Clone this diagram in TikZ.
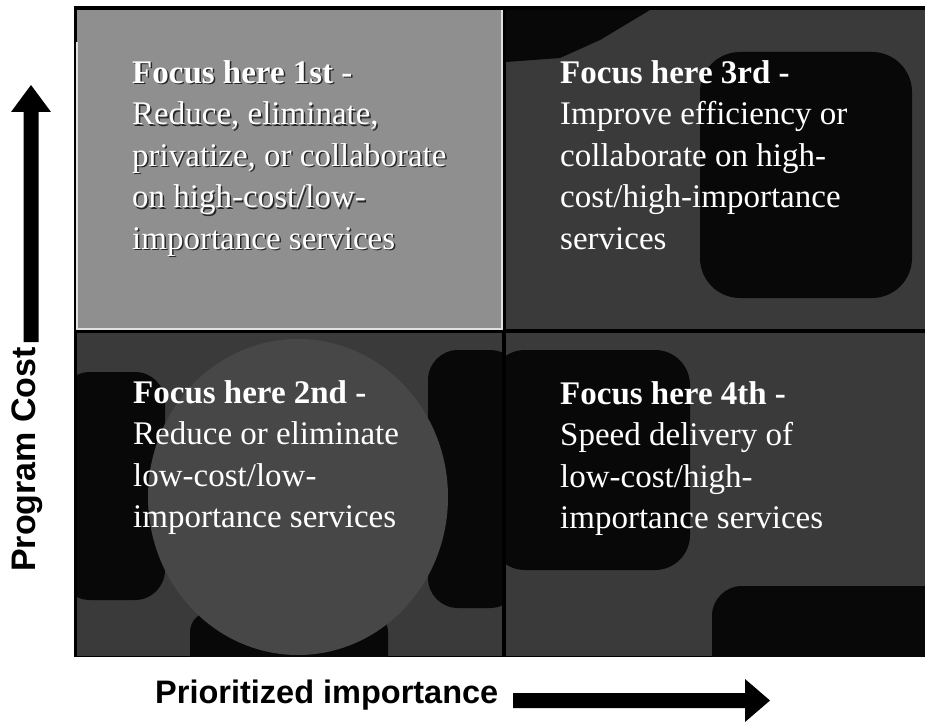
\documentclass[tikz,border=0pt]{standalone}
\usepackage{fontspec}
\setmainfont{Liberation Serif}
\newfontfamily\axisfont{Liberation Sans}
\definecolor{lightquad}{HTML}{8F8F8F}
\definecolor{greyzone}{HTML}{3A3A3A}
\definecolor{midzone}{HTML}{474747}
\definecolor{deepzone}{HTML}{080808}
\begin{document}
\begin{tikzpicture}[x=1pt,y=-1pt,
  quadtext/.style={anchor=north west, inner sep=0pt, align=left, text=white,
    font=\fontsize{33}{41.5}\selectfont},
  shadowtext/.style={quadtext, text=black!85},
  axislabel/.style={inner sep=0pt, text=black,
    font=\axisfont\bfseries\fontsize{32.5}{36}\selectfont},
  axisarrow/.style={fill=black},
]
\useasboundingbox (0,0) rectangle (925,722);
\fill[white] (0,0) rectangle (925,722);

% black frame behind the four quadrants
\fill[black] (74,6) rectangle (925,657);

% top left quadrant: light grey
\fill[lightquad] (77,10) rectangle (502,329);
\draw[white!88!black, line width=1.2pt] (77,42) -- (77,329) -- (502,329) -- (502,10);

% top right quadrant
\begin{scope}
  \clip (506,10) rectangle (925,329);
  \fill[greyzone] (506,10) rectangle (925,329);
  \fill[deepzone] (506,10) -- (650,10) -- (600,40) -- (560,58) -- (506,62) -- cycle;
  \fill[deepzone, rounded corners=40pt] (700,52) rectangle (912,298);
\end{scope}

% bottom left quadrant
\begin{scope}
  \clip (77,333) rectangle (502,656);
  \fill[greyzone] (77,333) rectangle (502,656);
  \fill[deepzone, rounded corners=30pt] (60,372) rectangle (165,600);
  \fill[deepzone, rounded corners=30pt] (428,350) rectangle (520,608);
  \fill[deepzone, rounded corners=20pt] (190,612) rectangle (388,680);
  \fill[midzone] (298,497) ellipse [x radius=150, y radius=158];
\end{scope}

% bottom right quadrant
\begin{scope}
  \clip (506,333) rectangle (925,656);
  \fill[greyzone] (506,333) rectangle (925,656);
  \fill[deepzone, rounded corners=35pt] (490,350) rectangle (690,570);
  \fill[deepzone, rounded corners=30pt] (712,586) rectangle (960,690);
\end{scope}

% quadrant texts
\node[shadowtext] (q1s) at (133.5,61.5) {\textbf{Focus here 1st -}\\Reduce, eliminate,\\privatize, or collaborate\\on high-cost/low-\\importance services};
\node[quadtext] (q1) at (132,60) {\textbf{Focus here 1st -}\\Reduce, eliminate,\\privatize, or collaborate\\on high-cost/low-\\importance services};
\node[quadtext] (q3) at (560,60) {\textbf{Focus here 3rd -}\\Improve efficiency or\\collaborate on high-\\cost/high-importance\\services};
\node[quadtext] (q2) at (133,380) {\textbf{Focus here 2nd -}\\Reduce or eliminate\\low-cost/low-\\importance services};
\node[quadtext] (q4) at (560,381) {\textbf{Focus here 4th -}\\Speed delivery of\\low-cost/high-\\importance services};

% vertical axis: label and arrow
\node[axislabel, anchor=base west, rotate=90, font=\axisfont\bfseries\fontsize{34}{38}\selectfont] (ylabel) at (35,572) {Program Cost};
\coordinate (ys) at (31,342);
\coordinate (yt) at (31,85);
\fill[axisarrow] (ys) ++(-7.5,0) -- ++(0,-230) -- ++(-12.5,0) -- (yt) -- ++(20,27) -- ++(-12.5,0) -- ++(0,230) -- cycle;

% horizontal axis: label and arrow
\node[axislabel, anchor=base west] (xlabel) at (155,703) {Prioritized importance};
\coordinate (xs) at (513,700.5);
\coordinate (xt) at (770,700.5);
\fill[axisarrow] (xs) ++(0,-7.5) -- ++(232,0) -- ++(0,-14) -- (xt) -- ++(-25,21.5) -- ++(0,-14) -- ++(-232,0) -- cycle;
\end{tikzpicture}
\end{document}
